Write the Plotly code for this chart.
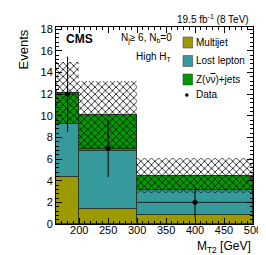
import numpy as np
import plotly.graph_objects as go

# ---- data ----
bin_edges = [160, 200, 300, 500]
multijet = [4.3, 1.35, 0.8]
lost_lepton = [4.95, 5.35, 2.35]
znunu = [2.85, 3.4, 1.3]
unc = [2.9, 3.1, 1.62]
data_counts = [12, 7, 2]
legend_labels = ["Multijet", "Lost lepton", "Z(ν<span style='text-decoration:overline'>ν</span>)+jets", "Data"]
colors = ["#9c9a00", "#36999b", "#009900"]

edges = np.array(bin_edges, dtype=float)
centers = (edges[:-1] + edges[1:]) / 2
widths = edges[1:] - edges[:-1]
mj = np.array(multijet); ll = np.array(lost_lepton); zn = np.array(znunu)
total = mj + ll + zn
FONT = "Liberation Sans, Arial, Helvetica, sans-serif"

fig = go.Figure()
base = np.zeros(3)
for vals, col, name in zip([mj, ll, zn], colors, legend_labels[:3]):
    fig.add_trace(go.Bar(x=centers, y=vals, base=base, width=widths, name=name,
                         marker=dict(color=col, line=dict(color="#2a3a2a", width=1)),
                         showlegend=False, hoverinfo="skip"))
    base = base + vals

u = np.array(unc)
fig.add_trace(go.Bar(x=centers, y=2 * u, base=total - u, width=widths,
                     marker=dict(color="rgba(0,0,0,0)", line=dict(width=0),
                                 pattern=dict(shape="x", size=5, solidity=0.3,
                                              fgcolor="#111111", bgcolor="rgba(0,0,0,0)",
                                              fillmode="replace")),
                     showlegend=False, hoverinfo="skip"))

d = np.array(data_counts, dtype=float)
fig.add_trace(go.Scatter(x=centers, y=d, mode="markers",
                         marker=dict(color="black", size=5),
                         error_y=dict(type="data", array=np.sqrt(d), color="black", thickness=1, width=0),
                         error_x=dict(type="data", array=widths / 2, color="#222222", thickness=1, width=0),
                         showlegend=False, hoverinfo="skip"))

fig.update_layout(
    width=266, height=255, barmode="overlay", bargap=0,
    margin=dict(l=48, r=14, t=19, b=39),
    paper_bgcolor="white", plot_bgcolor="white",
    font=dict(family=FONT, size=11, color="black"),
)
fig.update_xaxes(range=[160, 500], tickvals=[200, 250, 300, 350, 400, 450, 500],
                 ticks="inside", ticklen=6, tickcolor="black", showline=True, linecolor="black",
                 linewidth=1, mirror="allticks", showgrid=False, zeroline=False,
                 minor=dict(dtick=10, ticks="inside", ticklen=3, tickcolor="black"),
                 tickfont=dict(size=11), ticklabelstandoff=-4)
fig.update_yaxes(range=[0, 18.2], dtick=2, tick0=0,
                 ticks="inside", ticklen=6, tickcolor="black", showline=True, linecolor="black",
                 linewidth=1, mirror="allticks", showgrid=False, zeroline=False,
                 minor=dict(dtick=0.4, ticks="inside", ticklen=3, tickcolor="black"),
                 tickfont=dict(size=11))

ann = []
ann.append(dict(text="Events", xref="paper", yref="paper", x=-0.165, y=1.0, xanchor="center",
                yanchor="top", textangle=-90, showarrow=False, font=dict(size=13)))
ann.append(dict(text="M<sub>T2</sub> [GeV]", xref="paper", yref="paper", x=1.0, y=-0.068,
                xanchor="right", yanchor="top", showarrow=False, font=dict(size=12)))
ann.append(dict(text="19.5 fb<sup>-1</sup> (8 TeV)", xref="paper", yref="paper", x=0.99, y=1.0,
                xanchor="right", yanchor="bottom", showarrow=False, font=dict(size=10)))
ann.append(dict(text="<b>CMS</b>", xref="paper", yref="paper", x=0.04, y=0.985,
                xanchor="left", yanchor="top", showarrow=False, font=dict(size=12)))
ann.append(dict(text="N<sub>j</sub>≥ 6, N<sub>b</sub>=0", xref="paper", yref="paper", x=0.6, y=0.985,
                xanchor="right", yanchor="top", showarrow=False, font=dict(size=10)))
ann.append(dict(text="High H<sub>T</sub>", xref="paper", yref="paper", x=0.6, y=0.89,
                xanchor="right", yanchor="top", showarrow=False, font=dict(size=10)))

# custom legend
px0 = 48; pw = 204; py0 = 19; ph = 197
def pxx(x): return (x - px0) / pw
def pyy(y): return 1 - (y - py0) / ph
shapes = []
ycent = [34.5, 53, 71.5, 87]
for i, lab in enumerate(legend_labels):
    yc = ycent[i]
    if i < 3:
        shapes.append(dict(type="rect", xref="paper", yref="paper", x0=pxx(179.5), x1=pxx(189.5),
                           y0=pyy(yc + 5.5), y1=pyy(yc - 5.5), fillcolor=colors[i],
                           line=dict(color="#333333", width=0.5)))
    else:
        shapes.append(dict(type="circle", xref="paper", yref="paper", x0=pxx(182), x1=pxx(185),
                           y0=pyy(yc + 1.5), y1=pyy(yc - 1.5), fillcolor="black",
                           line=dict(color="black", width=0.5)))
    ann.append(dict(text=lab, xref="paper", yref="paper", x=pxx(190.5), y=pyy(yc),
                    xanchor="left", yanchor="middle", showarrow=False, font=dict(size=10)))

fig.update_layout(annotations=ann, shapes=shapes)
fig.write_html("out.html")
